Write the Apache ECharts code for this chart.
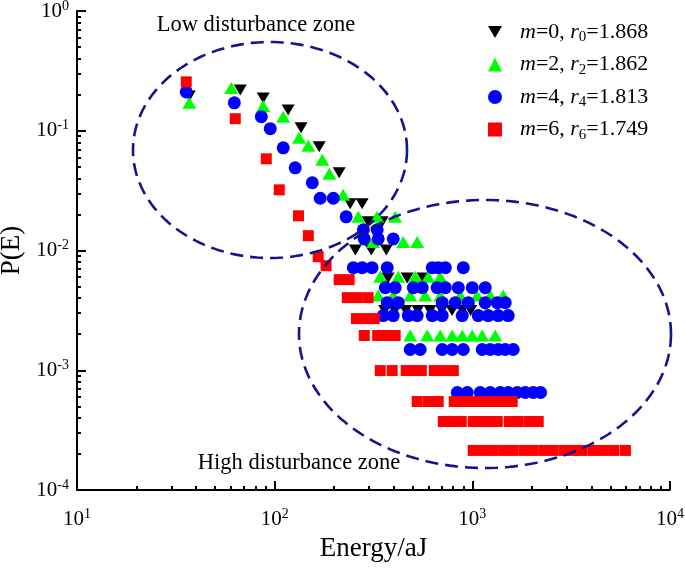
<!DOCTYPE html>
<html><head><meta charset="utf-8">
<script src="https://cdn.jsdelivr.net/npm/echarts@6/dist/echarts.min.js"></script>
<style>html,body{margin:0;padding:0;background:#fff}#c{width:685px;height:571px}</style>
</head><body><div id="c"></div>
<script>
// ---- data ----
const seriesNames = ['m0', 'm2', 'm4', 'm6'];
const seriesM = ['0', '2', '4', '6'];
const seriesR = ['1.868', '1.862', '1.813', '1.749'];

const m0X = [37, 67, 87.5, 117, 136, 168, 212, 241, 277, 297, 350, 256, 308, 367, 375, 468, 564,
  360, 405, 460, 530, 610, 700, 790, 890, 980];
const m0Y = [0.195, 0.219, 0.188, 0.149, 0.106, 0.0734, 0.0446, 0.0246, 0.0246, 0.0174, 0.0174,
  0.0101, 0.0101, 0.0101, 0.0059, 0.0059, 0.0059,
  0.00315, 0.00315, 0.00315, 0.00315, 0.00315, 0.00315, 0.00315, 0.00315, 0.00315];

const m2X = [37, 60.3, 87.5, 110.5, 133, 148, 174, 189, 222, 265, 330, 407, 315, 447, 526,
  342, 422, 514, 598, 688,
  334, 398, 485, 578, 688, 869, 1059, 1232, 1433,
  485, 591, 688, 791, 889, 999, 1122, 1305];
const m2Y = [0.171, 0.228, 0.161, 0.131, 0.0872, 0.0748, 0.0572, 0.0437, 0.0292, 0.0191, 0.0191, 0.0191,
  0.0118, 0.0118, 0.0118,
  0.00605, 0.00605, 0.00605, 0.00605, 0.00605,
  0.0042, 0.0042, 0.0042, 0.0042, 0.0042, 0.0042, 0.0042, 0.0042, 0.0042,
  0.00195, 0.00195, 0.00195, 0.00195, 0.00195, 0.00195, 0.00195, 0.00195];

const m4X = [35.7, 62.5, 85.6, 95, 110.5, 127, 155, 170, 198, 230, 281, 330, 284, 334, 398,
  250, 277, 311, 371, 627, 672, 730, 900,
  363, 407, 503, 558, 664, 730, 849, 999, 1162,
  371, 422, 704, 820, 954, 1162, 1337, 1467,
  354, 398, 474, 526, 627, 704, 889, 1071, 1203, 1352, 1519,
  485, 545, 704, 791, 900, 1122, 1232, 1352, 1467, 1610,
  839, 942, 1096, 1232, 1384, 1519, 1687, 1854, 2033, 2215];
const m4Y = [0.211, 0.171, 0.131, 0.104, 0.072, 0.049, 0.0368, 0.0273, 0.0273, 0.0191, 0.0149, 0.0149,
  0.0125, 0.0125, 0.0125,
  0.00719, 0.00719, 0.00719, 0.00719, 0.00719, 0.00719, 0.00719, 0.00719,
  0.00489, 0.00489, 0.00489, 0.00489, 0.00489, 0.00489, 0.00489, 0.00489, 0.00489,
  0.00367, 0.00367, 0.00367, 0.00367, 0.00367, 0.00367, 0.00367, 0.00367,
  0.00286, 0.00286, 0.00286, 0.00286, 0.00286, 0.00286, 0.00286, 0.00286, 0.00286, 0.00286, 0.00286,
  0.00149, 0.00149, 0.00149, 0.00149, 0.00149, 0.00149, 0.00149, 0.00149, 0.00149, 0.00149,
  0.000652, 0.000652, 0.000652, 0.000652, 0.000652, 0.000652, 0.000652, 0.000652, 0.000652, 0.000652];

const m6X = [35.7, 63.2, 90.7, 105.5, 132, 148, 166, 182, 212, 238, 233, 262, 297, 259, 291, 319,
  284, 332, 363, 407,
  342, 393, 463, 508, 552, 642, 721, 801,
  526, 598, 672, 810, 910, 1022, 1149, 1291, 1433, 1591,
  713, 791, 879, 1011, 1109, 1217, 1337, 1537, 1707, 1940, 2155,
  1010, 1140, 1270, 1440, 1600, 1820, 2030, 2300, 2550, 2900, 3250, 3600, 4100, 4600, 5200, 5950];
const m6Y = [0.256, 0.126, 0.0583, 0.0321, 0.0195, 0.0133, 0.00888, 0.00747, 0.00571, 0.00571,
  0.00404, 0.00404, 0.00404, 0.0027, 0.0027, 0.0027,
  0.00195, 0.00195, 0.00195, 0.00195,
  0.000994, 0.000994, 0.000994, 0.000994, 0.000994, 0.000994, 0.000994, 0.000994,
  0.000548, 0.000548, 0.000548, 0.000548, 0.000548, 0.000548, 0.000548, 0.000548, 0.000548, 0.000548,
  0.000373, 0.000373, 0.000373, 0.000373, 0.000373, 0.000373, 0.000373, 0.000373, 0.000373, 0.000373, 0.000373,
  0.000214, 0.000214, 0.000214, 0.000214, 0.000214, 0.000214, 0.000214, 0.000214, 0.000214, 0.000214,
  0.000214, 0.000214, 0.000214, 0.000214, 0.000214, 0.000214];

const xMajorTicks = [10, 100, 1000, 10000];
const xMinorTicks = [20, 30, 40, 50, 60, 70, 80, 90, 200, 300, 400, 500, 600, 700, 800, 900,
  2000, 3000, 4000, 5000, 6000, 7000, 8000, 9000];
const yMajorTicks = [0.0001, 0.001, 0.01, 0.1, 1];
const yMinorTicks = [0.0002, 0.0003, 0.0004, 0.0005, 0.0006, 0.0007, 0.0008, 0.0009,
  0.002, 0.003, 0.004, 0.005, 0.006, 0.007, 0.008, 0.009,
  0.02, 0.03, 0.04, 0.05, 0.06, 0.07, 0.08, 0.09,
  0.2, 0.3, 0.4, 0.5, 0.6, 0.7, 0.8, 0.9];

const xName = 'Energy/aJ';
const yName = 'P(E)';
const zoneLow = 'Low disturbance zone';
const zoneHigh = 'High disturbance zone';

// ---- chart ----
const FONT = 'Liberation Serif';
const zip = (xs, ys) => xs.map((x, i) => [x, ys[i]]);
const expLabel = v => '10{sup|' + Math.round(Math.log10(v)) + '}';
const labelRich = { sup: { fontSize: 14, fontFamily: FONT, color: '#000', verticalAlign: 'top', lineHeight: 14 } };

function ellipse(cx, cy, rx, ry) {
  const p = [];
  for (let k = 0; k <= 200; k++) {
    const t = k / 200 * 2 * Math.PI;
    p.push([cx + rx * Math.cos(t), cy + ry * Math.sin(t)]);
  }
  return p;
}

const axisLineStyle = { color: '#000', width: 2 };

const chart = echarts.init(document.getElementById('c'), null, { renderer: 'canvas' });
chart.setOption({
  animation: false,
  backgroundColor: '#fff',
  grid: { left: 77, right: 15, top: 11, bottom: 81, containLabel: false, outerBoundsMode: 'none' },
  xAxis: [{
    type: 'log', logBase: 10, min: 10, max: 10000, position: 'bottom',
    axisLine: { show: true, lineStyle: axisLineStyle },
    axisTick: { show: true, inside: true, length: 9, customValues: xMajorTicks, lineStyle: { color: '#000', width: 2 } },
    axisLabel: { show: true, customValues: xMajorTicks, formatter: expLabel, fontFamily: FONT, fontSize: 21, color: '#000', margin: 17, lineHeight: 24, rich: labelRich },
    splitLine: { show: false },
    name: xName, nameLocation: 'middle', nameGap: 37,
    nameTextStyle: { fontFamily: FONT, fontSize: 27, color: '#000' }
  }, {
    type: 'log', logBase: 10, min: 10, max: 10000, position: 'bottom',
    axisLine: { show: false },
    axisTick: { show: true, inside: true, length: 4, customValues: xMinorTicks, lineStyle: { color: '#000', width: 2 } },
    axisLabel: { show: false }, splitLine: { show: false }
  }],
  yAxis: [{
    type: 'log', logBase: 10, min: 0.0001, max: 1, position: 'left',
    axisLine: { show: true, lineStyle: axisLineStyle },
    axisTick: { show: true, inside: true, length: 9, customValues: yMajorTicks, lineStyle: { color: '#000', width: 2 } },
    axisLabel: { show: true, customValues: yMajorTicks, formatter: expLabel, fontFamily: FONT, fontSize: 21, color: '#000', margin: 8, lineHeight: 24, rich: labelRich },
    splitLine: { show: false },
    name: yName, nameLocation: 'middle', nameGap: 41,
    nameTextStyle: { fontFamily: FONT, fontSize: 27, color: '#000' }
  }, {
    type: 'log', logBase: 10, min: 0.0001, max: 1, position: 'left',
    axisLine: { show: false },
    axisTick: { show: true, inside: true, length: 4, customValues: yMinorTicks, lineStyle: { color: '#000', width: 2 } },
    axisLabel: { show: false }, splitLine: { show: false }
  }],
  legend: {
    orient: 'vertical', left: 488, top: 21, padding: 0, itemWidth: 14, itemHeight: 14, itemGap: 8.5,
    data: seriesNames,
    formatter: name => {
      const i = seriesNames.indexOf(name);
      return '{g|}{i|m}{n|=' + seriesM[i] + ', }{i|r}{s|' + seriesM[i] + '}{n|=' + seriesR[i] + '}';
    },
    textStyle: {
      fontFamily: FONT, fontSize: 22, color: '#000',
      rich: {
        g: { width: 13 },
        i: { fontFamily: FONT, fontSize: 22, fontStyle: 'italic', color: '#000', lineHeight: 26 },
        n: { fontFamily: FONT, fontSize: 22, color: '#000', lineHeight: 26 },
        s: { fontFamily: FONT, fontSize: 15, color: '#000', verticalAlign: 'bottom', lineHeight: 14 }
      }
    }
  },
  series: [
    { type: 'scatter', name: 'm0', data: zip(m0X, m0Y), symbol: 'path://M0,0L12,0L6,10.4Z', symbolSize: [13, 11], itemStyle: { color: '#000000', opacity: 1 } },
    { type: 'scatter', name: 'm2', data: zip(m2X, m2Y), symbol: 'triangle', symbolSize: [14, 12], itemStyle: { color: '#00ff00', opacity: 1 } },
    { type: 'scatter', name: 'm4', data: zip(m4X, m4Y), symbol: 'circle', symbolSize: 13, itemStyle: { color: '#0000ff', opacity: 1 } },
    { type: 'scatter', name: 'm6', data: zip(m6X, m6Y), symbol: 'rect', symbolSize: 11, itemStyle: { color: '#ff0000', opacity: 1 } }
  ],
  graphic: [
    { type: 'polyline', z: 100, shape: { points: ellipse(270, 150, 137, 108) }, style: { stroke: '#14148c', lineWidth: 2.6, lineDash: [13, 7], fill: null } },
    { type: 'polyline', z: 100, shape: { points: ellipse(485, 334, 186, 134) }, style: { stroke: '#14148c', lineWidth: 2.6, lineDash: [13, 7], fill: null } },
    { type: 'text', z: 101, x: 256, y: 25, style: { text: zoneLow, fontFamily: FONT, fontSize: 22.5, fill: '#000', textAlign: 'center', textVerticalAlign: 'middle' } },
    { type: 'text', z: 101, x: 299, y: 463, style: { text: zoneHigh, fontFamily: FONT, fontSize: 22.5, fill: '#000', textAlign: 'center', textVerticalAlign: 'middle' } }
  ]
});
</script>
</body></html>
